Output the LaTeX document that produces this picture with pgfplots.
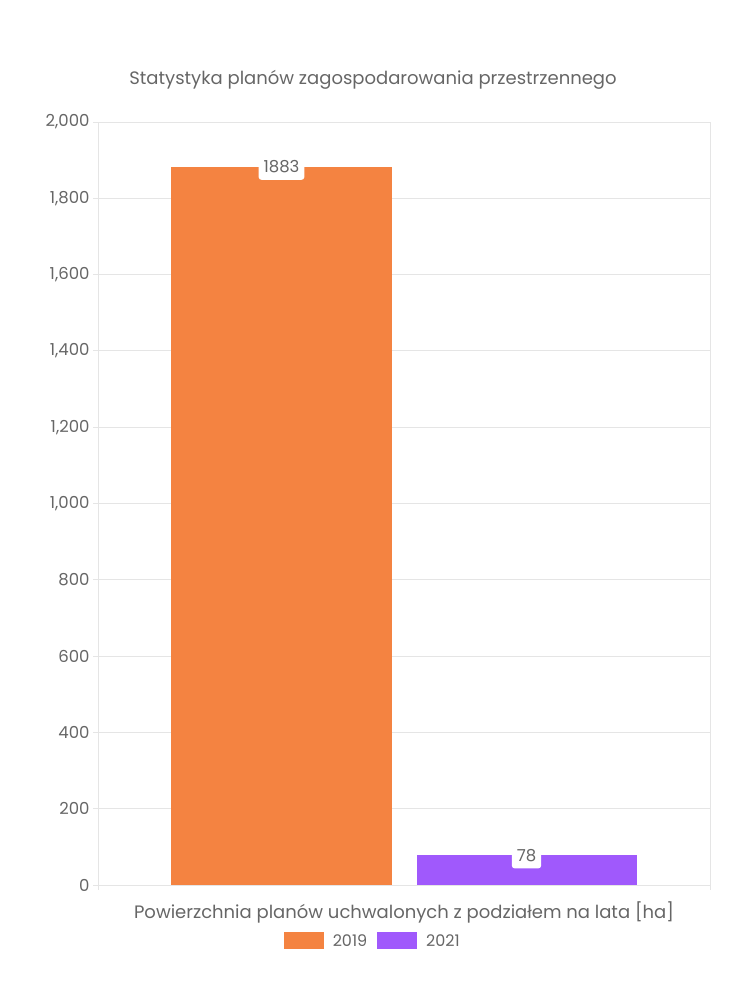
\documentclass[border=0pt]{standalone}
\usepackage{pgfplots}
\pgfplotsset{compat=1.18}
\usepackage{fontspec}
\setmainfont{Poppins}
\definecolor{barorange}{RGB}{244,131,65}
\definecolor{barpurple}{RGB}{160,89,252}
\definecolor{txtgray}{RGB}{102,102,102}
\definecolor{gridgray}{RGB}{229,229,229}
\definecolor{axgray}{RGB}{200,200,200}
\begin{document}
\begin{tikzpicture}
\path[use as bounding box] (0bp,0bp) rectangle (750bp,1000bp);
\node[font=\fontsize{18bp}{20bp}\selectfont, text=txtgray] at (373bp,920bp) {Statystyka planów zagospodarowania przestrzennego};
\begin{axis}[
  at={(98bp,115bp)}, anchor=south west,
  width=612bp, height=763bp, scale only axis,
  xmin=-0.5, xmax=0.5, ymin=0, ymax=2000,
  ytick={0,200,...,2000},
  xtick={-0.5,0.5}, xticklabels={},
  tick pos=left,
  tick align=outside,
  major tick length=5bp,
  ymajorgrids, grid style={gridgray, line width=0.8bp},
  axis line style={gridgray, line width=0.8bp},
  tick style={gridgray, line width=0.8bp},
  every tick label/.append style={font=\fontsize{16.5bp}{18bp}\selectfont, text=txtgray},
  /pgf/number format/assume math mode=true,
  /pgf/number format/1000 sep={,},
  scaled y ticks=false,
  ybar, bar width=220bp,
  xlabel={Powierzchnia planów uchwalonych z podziałem na lata [ha]},
  xlabel style={font=\fontsize{18bp}{20bp}\selectfont, text=txtgray, at={(axis description cs:0.5,0)}, anchor=center, yshift=-27bp},
  nodes near coords,
  nodes near coords={\pgfmathprintnumber[1000 sep={}]{\pgfplotspointmeta}},
  every node near coord/.append style={anchor=center, fill=white, rounded corners=3bp, text=txtgray, font=\fontsize{16.5bp}{18bp}\selectfont, inner xsep=5bp, inner ysep=7bp, /pgf/number format/assume math mode=true},
  legend columns=2,
  legend style={at={(axis description cs:0.449,-0.0733)}, anchor=center, draw=none, fill=none, font=\fontsize{16bp}{18bp}\selectfont, text=txtgray, /tikz/every odd column/.append style={column sep=7bp}, /tikz/every even column/.append style={column sep=8bp}},
  legend image code/.code={\fill[#1] (0bp,-8.5bp) rectangle (40bp,8.5bp);},
]
\addplot[fill=barorange, draw=none, bar shift=-122.5bp] coordinates {(0,1883)};
\addlegendentry{2019}
\addplot[fill=barpurple, draw=none, bar shift=122.5bp] coordinates {(0,78)};
\addlegendentry{2021}
\draw[axgray, line width=0.8bp] (rel axis cs:0,0) -- (rel axis cs:1,0);
\end{axis}
\end{tikzpicture}
\end{document}
